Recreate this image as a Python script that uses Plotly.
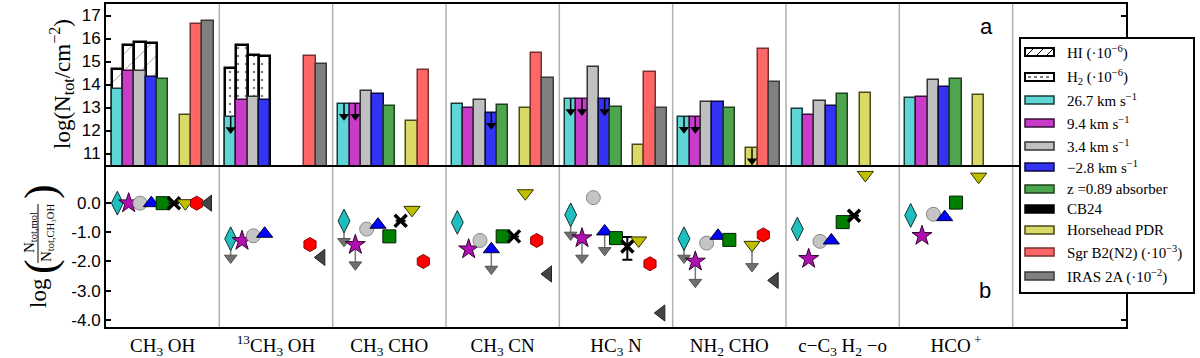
import plotly.graph_objects as go

# ---------------- data ----------------
molecules = ["CH<sub>3</sub> OH", "<sup>13</sup>CH<sub>3</sub> OH", "CH<sub>3</sub> CHO", "CH<sub>3</sub> CN",
             "HC<sub>3</sub> N", "NH<sub>2</sub> CHO", "c\u2212C<sub>3</sub> H<sub>2</sub> \u2212o", "HCO<sup> +</sup>"]

source_names = ["26.7 km s<sup>\u22121</sup>", "9.4 km s<sup>\u22121</sup>", "3.4 km s<sup>\u22121</sup>",
                "\u22122.8 km s<sup>\u22121</sup>", "z =0.89 absorber", "CB24", "Horsehead PDR",
                "Sgr B2(N2) (\u00b710<sup>\u22123</sup>)", "IRAS 2A (\u00b710<sup>\u22122</sup>)"]

# top panel: log column densities (None = not available)
logN_267 = [13.82, 12.59, 13.17, 13.15, 13.38, 12.60, 12.92, 13.40]
logN_94 = [14.57, 13.31, 13.17, 13.00, 13.38, 12.60, 12.69, 13.47]
logN_34 = [14.58, 13.46, 13.70, 13.31, 14.77, 13.24, 13.30, 14.21]
logN_m28 = [14.32, 13.31, 13.60, 12.78, 13.38, 13.24, 13.08, 13.88]
logN_z089 = [14.24, None, 13.08, 13.11, 13.04, 13.00, 13.59, 14.24]
logN_cb24 = [None, None, None, None, None, None, None, None]
logN_hh = [12.69, None, 12.42, 13.00, 11.39, 11.23, 13.63, 13.54]
logN_sgr = [16.64, 15.22, 14.64, 15.36, 14.56, 15.55, None, None]
logN_iras = [16.74, 14.87, None, 14.30, 12.98, 14.09, None, None]

# upper-limit flags, top panel
ul_267 = [0, 1, 1, 0, 1, 1, 0, 0]
ul_94 = [0, 0, 1, 0, 1, 1, 0, 0]
ul_34 = [0, 0, 0, 0, 0, 0, 0, 0]
ul_m28 = [0, 0, 0, 1, 1, 0, 0, 0]
ul_z089 = [0, 0, 0, 0, 0, 0, 0, 0]
ul_cb24 = [0, 0, 0, 0, 0, 0, 0, 0]
ul_hh = [0, 0, 0, 0, 0, 1, 0, 0]
ul_sgr = [0, 0, 0, 0, 0, 0, 0, 0]
ul_iras = [0, 0, 0, 0, 0, 0, 0, 0]

# HI (x1e-6) for CH3OH column, H2 (x1e-6) for 13CH3OH column (first four velocity components)
logN_HI = [14.69, 15.70, 15.86, 15.81]
logN_H2 = [14.73, 15.70, 15.29, 15.25]

# bottom panel: log(N_mol / N_CH3OH)
rel_267 = [0.0, -1.22, -0.61, -0.66, -0.40, -1.22, -0.89, -0.42]
rel_94 = [0.0, -1.29, -1.43, -1.58, -1.20, -2.00, -1.91, -1.12]
rel_34 = [0.0, -1.12, -0.89, -1.28, 0.19, -1.37, -1.31, -0.38]
rel_m28 = [0.0, -1.05, -0.74, -1.58, -0.97, -1.12, -1.28, -0.48]
rel_z089 = [0.0, None, -1.14, -1.14, -1.20, -1.26, -0.65, 0.02]
rel_cb24 = [0.0, None, -0.60, -1.14, -1.49, None, -0.43, None]
rel_hh = [0.0, None, -0.23, 0.34, -1.28, -1.43, 0.97, 0.91]
rel_sgr = [0.0, -1.42, -2.00, -1.28, -2.08, -1.09, None, None]
rel_iras = [0.0, -1.86, None, -2.43, -3.77, -2.65, None, None]

# lower ends of upper-limit arrows in bottom panel
relul_267 = [None, -1.88, -1.31, None, -1.09, -1.88, None, None]
relul_94 = [None, None, -2.11, None, -1.88, -2.71, None, None]
relul_34 = [None] * 8
relul_m28 = [None, None, None, -2.26, -1.62, None, None, None]
relul_z089 = [None] * 8
relul_cb24 = [None] * 8
relul_hh = [None, None, None, None, None, -2.17, None, None]
relul_sgr = [None] * 8
relul_iras = [None] * 8

# CB24 error bar (HC3N)
cb24_err_plus = [None, None, None, None, 0.33, None, None, None]
cb24_err_minus = [None, None, None, None, 0.45, None, None, None]

top_values = [logN_267, logN_94, logN_34, logN_m28, logN_z089, logN_cb24, logN_hh, logN_sgr, logN_iras]
top_ul = [ul_267, ul_94, ul_34, ul_m28, ul_z089, ul_cb24, ul_hh, ul_sgr, ul_iras]
rel_values = [rel_267, rel_94, rel_34, rel_m28, rel_z089, rel_cb24, rel_hh, rel_sgr, rel_iras]
rel_ul = [relul_267, relul_94, relul_34, relul_m28, relul_z089, relul_cb24, relul_hh, relul_sgr, relul_iras]

# ---------------- styles ----------------
bar_colors = ["#5ED6D6", "#C93BC9", "#C0C0C0", "#3333F5", "#4DA64D", "#000000", "#D9D966", "#FF6666", "#808080"]
bar_edges = ["#1A3A3A", "#3A103A", "#333333", "#0A0A40", "#1E401E", "#000000", "#4A4A1A", "#7A3030", "#3A3A3A"]
mk_symbols = ["diamond-tall", "star", "circle", "triangle-up", "square", "x-thin-open", "triangle-down",
              "hexagon", "triangle-left"]
mk_colors = ["#20BFBF", "#B010B0", "#C4C4C4", "#0000FF", "#008000", "#000000", "#BFBF00", "#FF0000", "#444444"]
mk_edges = ["#103030", "#300030", "#888888", "#000030", "#002000", "#000000", "#303000", "#900000", "#222222"]
mk_sizes = [17, 15, 14, 14, 13, 12, 14, 14, 14]

ncols = 9
bw = 0.1


def xpos(col, i):
    return col + 0.1 + bw * i


fig = go.Figure()

# HI / H2 background bars
fig.add_trace(go.Bar(x=[xpos(0, i) for i in range(4)], y=logN_HI, width=bw, xaxis="x", yaxis="y",
                     marker=dict(color="white", line=dict(color="black", width=2.5),
                                 pattern=dict(shape="/", fgcolor="black", bgcolor="white", size=12, solidity=0.06)),
                     showlegend=False, hoverinfo="skip"))
fig.add_trace(go.Bar(x=[xpos(1, i) for i in range(4)], y=logN_H2, width=bw, xaxis="x", yaxis="y",
                     marker=dict(color="white", line=dict(color="black", width=2.5),
                                 pattern=dict(shape=".", fgcolor="black", bgcolor="white", size=8, solidity=0.08)),
                     showlegend=False, hoverinfo="skip"))

# coloured bars
for i, vals in enumerate(top_values):
    xs, ys = [], []
    for c, v in enumerate(vals):
        if v is not None:
            xs.append(xpos(c, i))
            ys.append(v)
    if not xs:
        continue
    fig.add_trace(go.Bar(x=xs, y=ys, width=bw, xaxis="x", yaxis="y",
                         marker=dict(color=bar_colors[i], line=dict(color=bar_edges[i], width=1.5)),
                         showlegend=False))

# upper-limit arrows, top panel
ax_x, ax_y, hx, hy = [], [], [], []
for i, vals in enumerate(top_values):
    for c, v in enumerate(vals):
        if v is not None and top_ul[i][c]:
            ax_x += [xpos(c, i), xpos(c, i), None]
            ax_y += [v, v - 0.5, None]
            hx.append(xpos(c, i))
            hy.append(v - 0.55)
fig.add_trace(go.Scatter(x=ax_x, y=ax_y, mode="lines", line=dict(color="black", width=1.5),
                         xaxis="x", yaxis="y", showlegend=False, hoverinfo="skip"))
fig.add_trace(go.Scatter(x=hx, y=hy, mode="markers", marker=dict(symbol="triangle-down", size=9, color="black"),
                         xaxis="x", yaxis="y", showlegend=False, hoverinfo="skip"))

# bottom panel: upper-limit arrows (drawn first, under markers)
lx, ly, tx, ty = [], [], [], []
for i, vals in enumerate(rel_values):
    for c, v in enumerate(vals):
        lo = rel_ul[i][c]
        if v is not None and lo is not None:
            lx += [xpos(c, i), xpos(c, i), None]
            ly += [v, lo, None]
            tx.append(xpos(c, i))
            ty.append(lo)
fig.add_trace(go.Scatter(x=lx, y=ly, mode="lines", line=dict(color="#777777", width=1.5),
                         xaxis="x2", yaxis="y2", showlegend=False, hoverinfo="skip"))
fig.add_trace(go.Scatter(x=tx, y=ty, mode="markers",
                         marker=dict(symbol="triangle-down", size=11, color="#707070",
                                     line=dict(color="#555555", width=1)),
                         xaxis="x2", yaxis="y2", showlegend=False, hoverinfo="skip"))

# bottom panel markers
for i, vals in enumerate(rel_values):
    xs, ys = [], []
    for c, v in enumerate(vals):
        if v is not None:
            xs.append(xpos(c, i))
            ys.append(v)
    kw = {}
    if i == 5:
        ep = [cb24_err_plus[c] if cb24_err_plus[c] is not None else 0 for c, v in enumerate(vals) if v is not None]
        em = [cb24_err_minus[c] if cb24_err_minus[c] is not None else 0 for c, v in enumerate(vals) if v is not None]
        kw["error_y"] = dict(type="data", symmetric=False, array=ep, arrayminus=em, color="black",
                             thickness=2, width=5)
        marker = dict(symbol="x-thin-open", size=12, color="black", line=dict(color="black", width=3.5))
    else:
        marker = dict(symbol=mk_symbols[i], size=mk_sizes[i], color=mk_colors[i],
                      line=dict(color=mk_edges[i], width=1))
    fig.add_trace(go.Scatter(x=xs, y=ys, mode="markers", marker=marker, xaxis="x2", yaxis="y2",
                             showlegend=False, **kw))

# ---------------- layout ----------------
W, H = 1200, 358
L, R, T, B = 106, 1126, 4, 327
MID = 165


def px(x):
    return (x - L) / (R - L)


def py(y):
    return (B - y) / (B - T)


split = py(MID)

tickfont = dict(family="Liberation Sans, Arial, sans-serif", size=17, color="black")
serif = "Liberation Serif, Times New Roman, serif"

fig.update_layout(
    width=W, height=H, margin=dict(l=L, r=W - R, t=T, b=H - B, autoexpand=False),
    paper_bgcolor="white", plot_bgcolor="white", barmode="overlay", bargap=0,
    xaxis=dict(domain=[0, 1], anchor="y", range=[0, ncols], showticklabels=False, ticks="",
               showline=True, mirror=True, linecolor="black", linewidth=2, showgrid=False, zeroline=False,
               automargin=False),
    yaxis=dict(domain=[split, 1], anchor="x", range=[10.5, 17.5], tickvals=[11, 12, 13, 14, 15, 16, 17],
               ticks="inside", ticklen=5, tickwidth=1.5, tickcolor="black", showline=True, mirror="ticks",
               linecolor="black", linewidth=2, showgrid=False, zeroline=False, tickfont=tickfont,
               automargin=False),
    xaxis2=dict(domain=[0, 1], anchor="y2", range=[0, ncols], tickvals=[c + 0.5 for c in range(8)],
                ticktext=molecules, ticks="", showline=True, mirror=False, linecolor="black", linewidth=2,
                showgrid=False, zeroline=False, tickfont=dict(family=serif, size=19, color="black"),
                automargin=False),
    yaxis2=dict(domain=[0, split], anchor="x2", range=[-4.25, 1.31], tickvals=[0, -1, -2, -3, -4],
                ticktext=["0.0", "-1.0", "-2.0", "-3.0", "-4.0"], ticks="inside", ticklen=5, tickwidth=1.5,
                tickcolor="black", showline=True, mirror="ticks", linecolor="black", linewidth=2,
                showgrid=False, zeroline=False, tickfont=tickfont, automargin=False),
)

shapes = []
# column separators
for k in range(1, ncols):
    shapes.append(dict(type="line", xref="x", yref="paper", x0=k, x1=k, y0=0, y1=1,
                       line=dict(color="#B0B0B0", width=1.5), layer="below"))

# fraction bar of the lower y title
shapes.append(dict(type="line", xref="paper", yref="paper", x0=px(38), x1=px(38), y0=py(204), y1=py(263),
                   line=dict(color="black", width=1)))

# legend box
shapes.append(dict(type="rect", xref="paper", yref="paper", x0=px(1020), x1=px(1194), y0=py(38), y1=py(293),
                   fillcolor="white", line=dict(color="black", width=2), layer="above"))
leg_y = [52, 77, 100, 123, 146, 167, 189, 209, 230, 252, 276]
leg_names = ["HI (\u00b710<sup>\u22126</sup>)", "H<sub>2</sub> (\u00b710<sup>\u22126</sup>)"] + source_names
leg_fill = ["white", "white"] + bar_colors
leg_edge = ["black", "black"] + bar_edges
sx0, sx1 = 1025, 1054
for j, yc in enumerate(leg_y):
    shapes.append(dict(type="rect", xref="paper", yref="paper", x0=px(sx0), x1=px(sx1), y0=py(yc + 4),
                       y1=py(yc - 4), fillcolor=leg_fill[j], line=dict(color=leg_edge[j], width=1.5 if j > 1 else 2),
                       layer="above"))
# hatch for HI swatch
for off in [0, 10, 20]:
    shapes.append(dict(type="line", xref="paper", yref="paper", x0=px(sx0 + off + 1), x1=px(sx0 + off + 9),
                       y0=py(leg_y[0] + 4), y1=py(leg_y[0] - 4), line=dict(color="black", width=1), layer="above"))
# dots for H2 swatch
shapes.append(dict(type="line", xref="paper", yref="paper", x0=px(sx0 + 3), x1=px(sx1 - 3),
                   y0=py(leg_y[1]), y1=py(leg_y[1]), line=dict(color="black", width=1, dash="dot"), layer="above"))

annotations = []
for j, yc in enumerate(leg_y):
    annotations.append(dict(xref="paper", yref="paper", x=px(1065), y=py(yc), text=leg_names[j], showarrow=False,
                            xanchor="left", yanchor="middle", font=dict(family=serif, size=15, color="black")))

# axis titles
annotations.append(dict(xref="paper", yref="paper", x=px(62), y=py(84),
                        text="log(N<sub>tot</sub>/cm<sup>\u22122</sup>)", textangle=-90, showarrow=False,
                        xanchor="center", yanchor="middle", font=dict(family=serif, size=23, color="black")))
annotations.append(dict(xref="paper", yref="paper", x=px(38), y=py(293), text="log", textangle=-90,
                        showarrow=False, xanchor="center", yanchor="middle",
                        font=dict(family=serif, size=23, color="black")))
annotations.append(dict(xref="paper", yref="paper", x=px(40), y=py(267), text="(", textangle=-90,
                        showarrow=False, xanchor="center", yanchor="middle",
                        font=dict(family=serif, size=44, color="black")))
annotations.append(dict(xref="paper", yref="paper", x=px(40), y=py(192), text=")", textangle=-90,
                        showarrow=False, xanchor="center", yanchor="middle",
                        font=dict(family=serif, size=44, color="black")))
annotations.append(dict(xref="paper", yref="paper", x=px(30), y=py(233), text="N<sub>tot,mol</sub>",
                        textangle=-90, showarrow=False, xanchor="center", yanchor="middle",
                        font=dict(family=serif, size=15, color="black")))
annotations.append(dict(xref="paper", yref="paper", x=px(47), y=py(233), text="N<sub>tot,CH\u2083OH</sub>",
                        textangle=-90, showarrow=False, xanchor="center", yanchor="middle",
                        font=dict(family=serif, size=15, color="black")))

# panel letters
annotations.append(dict(xref="paper", yref="paper", x=px(986), y=py(26), text="a", showarrow=False,
                        xanchor="center", yanchor="middle",
                        font=dict(family="Liberation Sans, Arial, sans-serif", size=22, color="black")))
annotations.append(dict(xref="paper", yref="paper", x=px(985), y=py(290), text="b", showarrow=False,
                        xanchor="center", yanchor="middle",
                        font=dict(family="Liberation Sans, Arial, sans-serif", size=22, color="black")))

fig.update_layout(shapes=shapes, annotations=annotations)

fig.write_html("out.html", config={"displayModeBar": False},
               post_script="document.body.style.margin='0px';document.body.style.overflow='hidden';")
